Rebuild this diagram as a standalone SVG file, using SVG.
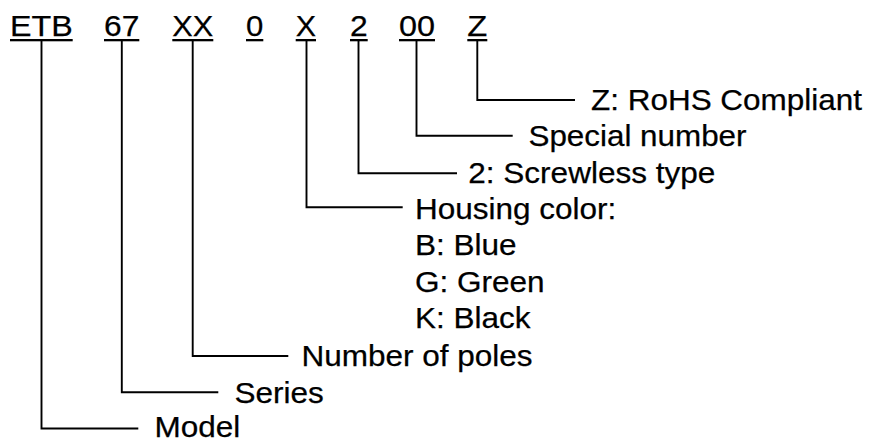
<svg xmlns="http://www.w3.org/2000/svg" width="869" height="442" viewBox="0 0 869 442">
<style>
text{font-family:"Liberation Sans",Arial,sans-serif;font-size:30px;fill:#000;stroke:#000;stroke-width:0.25}
.ul{fill:#000}
.c{fill:none;stroke:#000;stroke-width:1.9}
</style>
<rect width="869" height="442" fill="#fff"/>
<g id="code">
<g id="code-ETB"><text x="10" y="35.5" textLength="62.7" lengthAdjust="spacingAndGlyphs">ETB</text><rect class="ul" x="10" y="39" width="62.7" height="2.3"/></g>
<g id="code-67"><text x="104" y="35.5" textLength="35.3" lengthAdjust="spacingAndGlyphs">67</text><rect class="ul" x="104" y="39" width="35.3" height="2.3"/></g>
<g id="code-XX"><text x="172.3" y="35.5" textLength="41" lengthAdjust="spacingAndGlyphs">XX</text><rect class="ul" x="172.3" y="39" width="41" height="2.3"/></g>
<g id="code-0"><text x="246" y="35.5" textLength="17.3" lengthAdjust="spacingAndGlyphs">0</text><rect class="ul" x="246" y="39" width="17.3" height="2.3"/></g>
<g id="code-X"><text x="295.7" y="35.5" textLength="20.3" lengthAdjust="spacingAndGlyphs">X</text><rect class="ul" x="295.7" y="39" width="20.3" height="2.3"/></g>
<g id="code-2"><text x="350" y="35.5" textLength="17.7" lengthAdjust="spacingAndGlyphs">2</text><rect class="ul" x="350" y="39" width="17.7" height="2.3"/></g>
<g id="code-00"><text x="399" y="35.5" textLength="36" lengthAdjust="spacingAndGlyphs">00</text><rect class="ul" x="399" y="39" width="36" height="2.3"/></g>
<g id="code-Z"><text x="467.3" y="35.5" textLength="20" lengthAdjust="spacingAndGlyphs">Z</text><rect class="ul" x="467.3" y="39" width="20" height="2.3"/></g>
</g>
<g id="connectors">
<path class="c" d="M41.5,41 V428.5 H138.3"/>
<path class="c" d="M121.8,41 V392.3 H218.3"/>
<path class="c" d="M192.7,41 V356 H288.3"/>
<path class="c" d="M306.5,41 V207.3 H402.7"/>
<path class="c" d="M358.5,41 V173.3 H457"/>
<path class="c" d="M416.5,41 V135.8 H512.7"/>
<path class="c" d="M477.3,41 V100 H575"/>
</g>
<g id="label-rohs"><text x="591" y="109.5" textLength="271" lengthAdjust="spacingAndGlyphs">Z: RoHS Compliant</text></g>
<g id="label-special"><text x="528.5" y="145.5" textLength="218" lengthAdjust="spacingAndGlyphs">Special number</text></g>
<g id="label-screwless"><text x="468.3" y="182.5" textLength="247" lengthAdjust="spacingAndGlyphs">2: Screwless type</text></g>
<g id="label-housing">
<text x="415" y="218.5" textLength="201.3" lengthAdjust="spacingAndGlyphs">Housing color:</text>
<text x="415" y="255" textLength="101.6" lengthAdjust="spacingAndGlyphs">B: Blue</text>
<text x="415" y="291.5" textLength="129.6" lengthAdjust="spacingAndGlyphs">G: Green</text>
<text x="415" y="328" textLength="115.5" lengthAdjust="spacingAndGlyphs">K: Black</text>
</g>
<g id="label-poles"><text x="301.6" y="366" textLength="231" lengthAdjust="spacingAndGlyphs">Number of poles</text></g>
<g id="label-series"><text x="234.5" y="402.5" textLength="89.3" lengthAdjust="spacingAndGlyphs">Series</text></g>
<g id="label-model"><text x="154.4" y="437" textLength="85.8" lengthAdjust="spacingAndGlyphs">Model</text></g>
</svg>
